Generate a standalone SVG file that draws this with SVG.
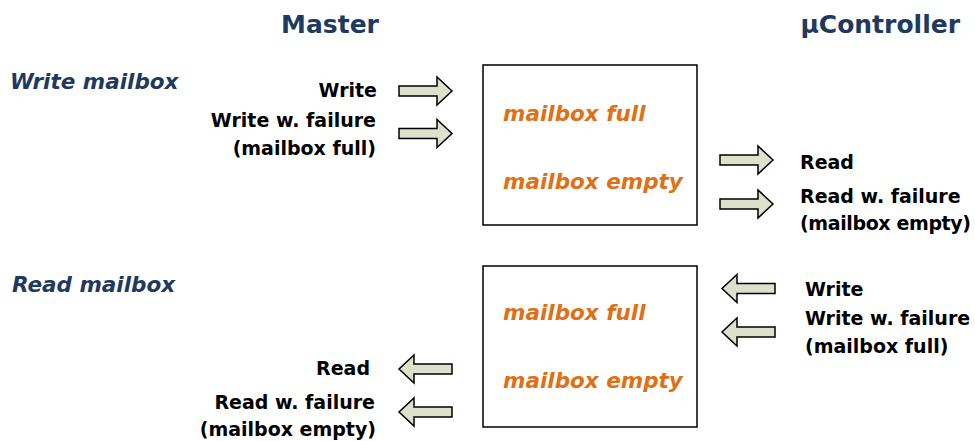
<svg xmlns="http://www.w3.org/2000/svg" width="975" height="441" viewBox="0 0 975 441">
<style>
text{font-family:"DejaVu Sans",sans-serif;font-weight:bold}
.h{font-size:25px;fill:#1f3a60}
.sec{font-style:italic;font-size:21.5px;fill:#1f3a60}
.lb{font-size:19px;fill:#000}
.st{font-style:italic;font-size:21.5px;fill:#e07016}
.box{fill:#fff;stroke:#000;stroke-width:1.5}
.ar{fill:#dde1cb;stroke:#000;stroke-width:1.5;stroke-linejoin:miter}
.r{text-anchor:end}
</style>
<defs>
<path id="ra" d="M0,-5 H38 V-14 L53,0 L38,14 V5 H0 Z"/>
<path id="la" d="M53,-5 H15 V-14 L0,0 L15,14 V5 H53 Z"/>
</defs>
<text class="h" x="330" y="33" text-anchor="middle">Master</text>
<text class="h" x="960" y="33" text-anchor="end">µController</text>
<text class="sec" x="10" y="89">Write mailbox</text>
<text class="sec" x="12" y="292">Read mailbox</text>
<g id="box-write">
<rect class="box" x="483" y="65" width="214" height="160"/>
<text class="st" x="503" y="121">mailbox full</text>
<text class="st" x="503" y="189">mailbox empty</text>
</g>
<g id="box-read">
<rect class="box" x="483" y="266" width="214" height="161"/>
<text class="st" x="503" y="320">mailbox full</text>
<text class="st" x="503" y="388">mailbox empty</text>
</g>
<g id="connectors">
<use href="#ra" class="ar" x="399" y="91"/>
<use href="#ra" class="ar" x="399" y="133.5"/>
<use href="#ra" class="ar" x="720" y="160"/>
<use href="#ra" class="ar" x="720" y="204"/>
<use href="#la" class="ar" x="722" y="288.5"/>
<use href="#la" class="ar" x="722" y="332"/>
<use href="#la" class="ar" x="399" y="369"/>
<use href="#la" class="ar" x="399" y="412"/>
</g>
<g id="labels-master-write">
<text class="lb r" x="377" y="97">Write</text>
<text class="lb r" x="376" y="127">Write w. failure</text>
<text class="lb r" x="376" y="155">(mailbox full)</text>
</g>
<g id="labels-uc-read">
<text class="lb" x="800" y="169">Read</text>
<text class="lb" x="800" y="203">Read w. failure</text>
<text class="lb" x="800" y="230" textLength="171">(mailbox empty)</text>
</g>
<g id="labels-uc-write">
<text class="lb" x="805" y="296">Write</text>
<text class="lb" x="805" y="325">Write w. failure</text>
<text class="lb" x="805" y="353">(mailbox full)</text>
</g>
<g id="labels-master-read">
<text class="lb r" x="370" y="375">Read</text>
<text class="lb r" x="375" y="409">Read w. failure</text>
<text class="lb r" x="376" y="436">(mailbox empty)</text>
</g>
</svg>
